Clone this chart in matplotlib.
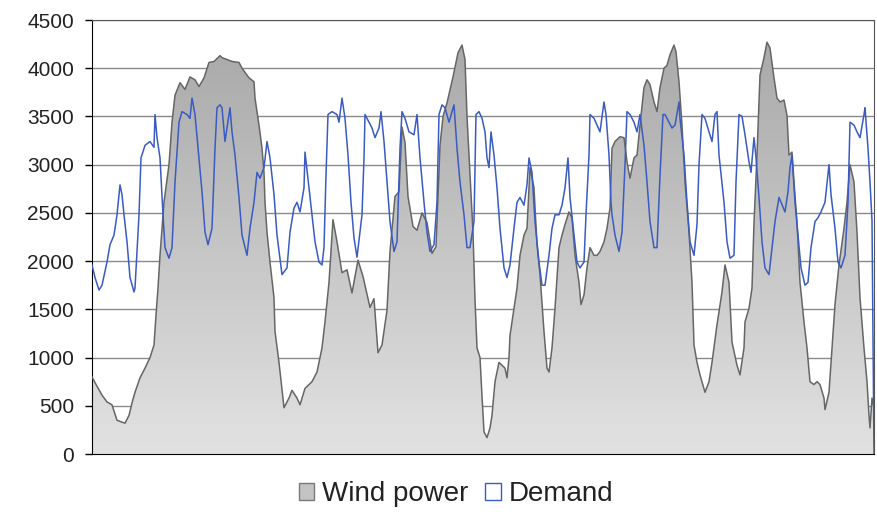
import numpy as np
import matplotlib
matplotlib.use("Agg")
import matplotlib.pyplot as plt
from matplotlib.patches import Patch
from matplotlib.colors import LinearSegmentedColormap

plt.rcParams['font.family'] = ['Liberation Sans', 'DejaVu Sans']

# wind power output, hours vs MW
wind_hours = [0, 1.5, 5, 7.5, 10, 12.5, 15, 16.5, 18.5, 20, 21.5, 24, 26.5, 29, 31, 32, 33, 34, 36, 38.5,
              40, 41.5, 44, 46.5, 49, 51.5, 53.5, 56, 58.5, 61, 64, 65, 70, 73.5, 75, 78.5, 81, 81.5, 83.5, 85,
              86, 86.5, 87.5, 89, 91, 91.5, 93.5, 96, 98.5, 100, 102.5, 104, 106.5, 110, 112.5, 115, 116.5, 118.5, 120.5, 122.5,
              125, 127.5, 130, 133, 135.5, 139, 141, 143, 145, 147.5, 149, 151.5, 153.5, 155, 156.5, 158, 160.5, 162.5, 165, 167.5,
              170, 172, 174, 175.5, 177.5, 180.5, 183, 185, 186.5, 187.5, 189, 190.5, 191.5, 192.5, 194, 195, 196, 197.5, 199, 200,
              201.5, 203.5, 205, 206.5, 207.5, 208.5, 209, 211, 212.5, 214, 216, 217.5, 218.5, 219, 221, 222.5, 224, 226, 227.5, 228.5,
              230, 231.5, 233.5, 235, 236.5, 238.5, 240, 241.5, 243.5, 244.5, 246, 247.5, 249, 251, 252.5, 254, 256, 257.5, 259, 260,
              261.5, 264, 266, 267.5, 269, 271, 272.5, 274, 276, 277.5, 279, 281, 282.5, 284, 286, 287.5, 289, 291, 292, 293.5,
              295, 296.5, 298.5, 300, 301, 302.5, 304, 306.5, 308.5, 310, 312.5, 315, 316.5, 318.5, 320, 322.5, 324, 326, 326.5, 328.5,
              330, 331, 332.5, 334, 336, 337.5, 339, 341, 342.5, 344, 346, 347.5, 348.5, 350, 351, 352.5, 354, 356, 357.5, 359,
              361, 362.5, 364, 366, 366.5, 368.5, 370, 371.5, 373.5, 376, 377.5, 379, 381, 382.5, 384, 386, 387.5, 388.5, 389, 390,
              391]
wind_power = [800, 740, 610, 540, 510, 350, 330, 320, 400, 530, 640, 790, 890, 1000, 1130, 1440, 1720, 2060, 2610, 3000,
              3440, 3720, 3850, 3780, 3910, 3880, 3810, 3900, 4060, 4070, 4130, 4110, 4070, 4060, 4000, 3900, 3860, 3690, 3410, 3170,
              2920, 2610, 2300, 1990, 1620, 1270, 950, 480, 580, 660, 580, 510, 680, 750, 850, 1100, 1370, 1780, 2430, 2200,
              1880, 1910, 1670, 2010, 1840, 1520, 1610, 1050, 1130, 1490, 2100, 2670, 2720, 3390, 3230, 2670, 2360, 2320, 2500, 2400,
              2080, 2150, 3200, 3500, 3640, 3910, 4160, 4240, 4090, 3500, 2900, 2300, 1600, 1100, 1000, 600, 230, 170, 270, 400,
              750, 950, 920, 890, 790, 1000, 1230, 1510, 1720, 2060, 2270, 2340, 2760, 2970, 2760, 2170, 1860, 1270, 890, 850,
              1100, 1510, 2140, 2270, 2380, 2510, 2450, 2060, 1780, 1550, 1650, 1930, 2140, 2060, 2060, 2100, 2200, 2340, 2550, 3170,
              3240, 3290, 3280, 3030, 2860, 3070, 3100, 3410, 3800, 3880, 3830, 3650, 3550, 3800, 4000, 4030, 4140, 4240, 4170, 3860,
              3410, 2820, 2300, 1780, 1130, 950, 820, 640, 750, 950, 1340, 1680, 1960, 1780, 1160, 920, 820, 1100, 1370, 1510,
              1720, 2400, 3100, 3930, 4110, 4270, 4210, 3900, 3690, 3650, 3670, 3510, 3100, 3130, 2820, 2400, 1780, 1370, 1100, 750,
              720, 750, 720, 580, 460, 640, 1100, 1550, 1960, 2340, 2610, 3000, 2820, 2300, 1620, 1100, 750, 400, 270, 580,
              480]

# demand, hours vs MW
demand_hours = [0, 1.5, 3.5, 5, 7.5, 9, 11, 12.5, 14, 15, 16, 17.5, 19, 21, 21.5, 23.5, 24.5, 26.5, 29, 31,
                31.5, 32.5, 34, 35.5, 36.5, 38.5, 40, 41.5, 43.5, 45, 47.5, 49, 50, 51.5, 53.5, 55, 56.5, 58, 60, 61.5,
                62.5, 64, 65, 66.5, 68.5, 69, 70, 71.5, 73.5, 75, 77.5, 79, 81, 82.5, 84, 86, 87.5, 89, 91, 92.5,
                95, 97.5, 99, 101, 102.5, 104, 106, 106.5, 108.5, 110, 111.5, 113.5, 115, 116, 117, 118, 120, 122.5, 123.5, 125,
                126.5, 128, 129.5, 131, 132.5, 135, 136, 136.5, 138.5, 140, 141.5, 143.5, 144.5, 146, 147.5, 149, 151, 152.5, 154, 155,
                156.5, 158.5, 161, 162.5, 164, 166, 167.5, 169, 171, 172.5, 173.5, 175, 176.5, 178.5, 180, 181, 182.5, 184, 186, 187.5,
                189, 191, 192, 193.5, 195, 196.5, 197.5, 198.5, 199.5, 201, 202.5, 204, 206, 207.5, 209, 211, 212.5, 214, 216, 217.5,
                218.5, 220, 221.5, 223.5, 225, 226.5, 228.5, 230, 231.5, 233.5, 235, 236.5, 238, 239, 241, 242.5, 244, 246, 247, 248.5,
                249, 251, 252.5, 254, 256, 257, 258.5, 259.5, 260, 261.5, 263.5, 265, 266.5, 267.5, 269, 271, 272.5, 274, 276, 277.5,
                279, 281, 282.5, 284, 285.5, 286.5, 288.5, 290, 291.5, 293.5, 294, 296, 297.5, 299, 301, 302.5, 303.5, 305, 306.5, 308.5,
                310, 311.5, 312.5, 313.5, 316, 317.5, 319, 321, 322, 323.5, 325, 326.5, 328.5, 329.5, 331, 332, 333.5, 335, 336.5, 338.5,
                340, 341.5, 343.5, 344.5, 346.5, 348, 349, 350, 351.5, 353, 354.5, 356.5, 358, 359.5, 361.5, 363, 364.5, 366.5, 368.5, 369.5,
                371.5, 373, 374.5, 376.5, 378, 379, 381, 382.5, 384, 386, 386.5, 388, 389, 390, 391]
demand = [1960, 1830, 1700, 1750, 1990, 2170, 2270, 2480, 2790, 2690, 2480, 2200, 1830, 1680, 1720, 2480, 3070, 3200, 3240, 3180,
          3520, 3280, 3070, 2480, 2140, 2030, 2140, 2820, 3440, 3550, 3520, 3480, 3690, 3520, 3070, 2720, 2300, 2170, 2340, 3170,
          3590, 3620, 3590, 3240, 3520, 3590, 3340, 3100, 2660, 2270, 2060, 2340, 2610, 2920, 2860, 2970, 3240, 3070, 2690, 2270,
          1860, 1930, 2300, 2550, 2610, 2510, 2760, 3130, 2760, 2480, 2200, 1990, 1960, 2140, 2890, 3520, 3550, 3520, 3440, 3690,
          3480, 3100, 2610, 2240, 2040, 2480, 3070, 3520, 3440, 3380, 3280, 3380, 3550, 3240, 2820, 2410, 2100, 2200, 3170, 3550,
          3480, 3340, 3310, 3520, 3070, 2610, 2300, 2100, 2170, 2610, 3520, 3620, 3590, 3440, 3550, 3620, 3170, 2820, 2480, 2140,
          2140, 2410, 3520, 3550, 3480, 3340, 3070, 2970, 3340, 3100, 2760, 2340, 1930, 1830, 1960, 2340, 2610, 2660, 2580, 2790,
          3070, 2920, 2410, 1990, 1750, 1750, 2060, 2340, 2480, 2480, 2580, 2760, 3070, 2660, 2270, 1990, 1930, 1990, 2480, 3100,
          3520, 3480, 3410, 3340, 3650, 3520, 3100, 2610, 2480, 2270, 2100, 2300, 3000, 3550, 3520, 3440, 3340, 3520, 3200, 2820,
          2410, 2140, 2140, 2890, 3520, 3520, 3440, 3380, 3410, 3650, 3480, 3100, 2610, 2200, 2060, 2380, 3000, 3520, 3480, 3340,
          3240, 3520, 3550, 3100, 2610, 2200, 2030, 2060, 2820, 3520, 3500, 3310, 3030, 2920, 3280, 3070, 2660, 2200, 1930, 1860,
          2140, 2410, 2660, 2610, 2510, 2720, 2970, 3100, 2610, 2270, 1930, 1750, 1780, 2140, 2410, 2450, 2510, 2610, 3000, 2690,
          2340, 1990, 1930, 2060, 2610, 3440, 3410, 3340, 3280, 3520, 3590, 3170, 2820, 2420, 0]

yticks = [0, 500, 1000, 1500, 2000, 2500, 3000, 3500, 4000, 4500]

fig = plt.figure(figsize=(8.77, 5.17), dpi=100)
ax = fig.add_axes([92 / 877, 63 / 517, 782 / 877, 434 / 517])

ax.set_xlim(0, 391)
ax.set_ylim(0, 4500)
ax.set_yticks(yticks)
ax.set_xticks([])
ax.yaxis.grid(True, color='#8a8a8a', linewidth=1.0)
ax.set_axisbelow(True)

# wind area with a vertical grey gradient
poly = ax.fill_between(wind_hours, wind_power, 0, facecolor='none', edgecolor='none', zorder=2)
cmap = LinearSegmentedColormap.from_list('grey', ['#e2e2e2', '#a9a9a9'])
grad = np.linspace(0, 1, 256).reshape(-1, 1)
img = ax.imshow(grad, cmap=cmap, aspect='auto', origin='lower',
                extent=[0, 391, 0, 4300], zorder=2)
img.set_clip_path(poly.get_paths()[0], transform=ax.transData)
ax.plot(wind_hours, wind_power, color='#666666', linewidth=1.1, zorder=3)

ax.plot(demand_hours, demand, color='#3a5bc2', linewidth=1.1, zorder=4)

for side in ['top', 'right']:
    ax.spines[side].set_color('#555555')
for side in ['left', 'bottom']:
    ax.spines[side].set_color('black')
ax.tick_params(axis='y', direction='out', length=5, width=1, labelsize=15,
               colors='black', labelcolor='#222222', pad=8)

handles = [Patch(facecolor='#c4c4c4', edgecolor='#7a7a7a', label='Wind power'),
           Patch(facecolor='white', edgecolor='#3a5bc2', label='Demand')]
fig.legend(handles=handles, loc='center', bbox_to_anchor=(0.52, 0.044), ncol=2,
           frameon=False, fontsize=20, handlelength=0.55, handleheight=0.55,
           handletextpad=0.3, columnspacing=0.6, labelcolor='#222222')

fig.savefig('out.png', dpi=100)
